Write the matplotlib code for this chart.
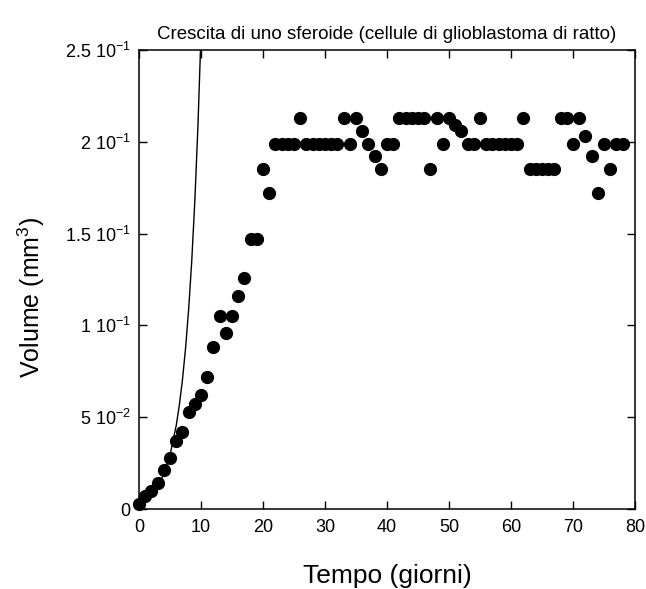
import matplotlib
matplotlib.use("Agg")
import matplotlib.pyplot as plt
import numpy as np

plt.rcParams['font.family'] = ['Liberation Sans', 'DejaVu Sans']
plt.rcParams['mathtext.fontset'] = 'custom'
plt.rcParams['mathtext.rm'] = 'Liberation Sans'
plt.rcParams['mathtext.it'] = 'Liberation Sans:italic'

# measured spheroid volume (mm^3), one point per day
days = list(range(0, 79))
volume = [0.003, 0.007, 0.010, 0.014, 0.021, 0.028, 0.037, 0.042, 0.053, 0.057,
          0.062, 0.072, 0.088, 0.105, 0.096, 0.105, 0.116, 0.126, 0.147, 0.147,
          0.185, 0.172, 0.199, 0.199, 0.199, 0.199, 0.213, 0.199, 0.199, 0.199,
          0.199, 0.199, 0.199, 0.213, 0.199, 0.213, 0.206, 0.199, 0.192, 0.185,
          0.199, 0.199, 0.213, 0.213, 0.213, 0.213, 0.213, 0.185, 0.213, 0.199,
          0.213, 0.209, 0.206, 0.199, 0.199, 0.213, 0.199, 0.199, 0.199, 0.199,
          0.199, 0.199, 0.213, 0.185, 0.185, 0.185, 0.185, 0.185, 0.213, 0.213,
          0.199, 0.213, 0.203, 0.192, 0.172, 0.199, 0.185, 0.199, 0.199]

# exponential growth curve
curve_t = [0, 1, 2, 3, 4, 5, 6, 6.5, 7, 7.5, 8, 8.5, 9, 9.5, 9.9, 10.1]
curve_v = [0.0033, 0.0052, 0.0080, 0.0124, 0.0190, 0.0294, 0.0455, 0.0565,
           0.0702, 0.0873, 0.1085, 0.1349, 0.1677, 0.2084, 0.2488, 0.27]

yticks = [0, 0.05, 0.10, 0.15, 0.20, 0.25]
ytick_labels = ['0', r'5 10$^{-2}$', r'1 10$^{-1}$', r'1.5 10$^{-1}$',
                r'2 10$^{-1}$', r'2.5 10$^{-1}$']

fig = plt.figure(figsize=(6.46, 5.89), dpi=100)
ax = fig.add_axes([0.2152, 0.1358, 0.7678, 0.7793])

ax.plot(curve_t, curve_v, color='black', lw=1.0, clip_on=True)
ax.plot(days, volume, 'o', color='black', markersize=8.5, clip_on=False)

ax.set_xlim(0, 80)
ax.set_ylim(0, 0.25)
ax.set_xticks(range(0, 81, 10))
ax.set_yticks(yticks)
ax.set_yticklabels(ytick_labels)
ax.tick_params(direction='in', length=6, width=1, top=True, right=True,
               labelsize=13)
ax.tick_params(axis='x', pad=7)
ax.tick_params(axis='y', pad=6)
for s in ax.spines.values():
    s.set_linewidth(1.1)

ax.set_title('Crescita di uno sferoide (cellule di glioblastoma di ratto)',
             fontsize=13.5, pad=8)
ax.set_xlabel('Tempo (giorni)', fontsize=19, labelpad=20)
ax.set_ylabel(r'Volume (mm$^3$)', fontsize=18)
ax.yaxis.set_label_coords(-0.185, 0.46)

fig.savefig('out.png', dpi=100)
